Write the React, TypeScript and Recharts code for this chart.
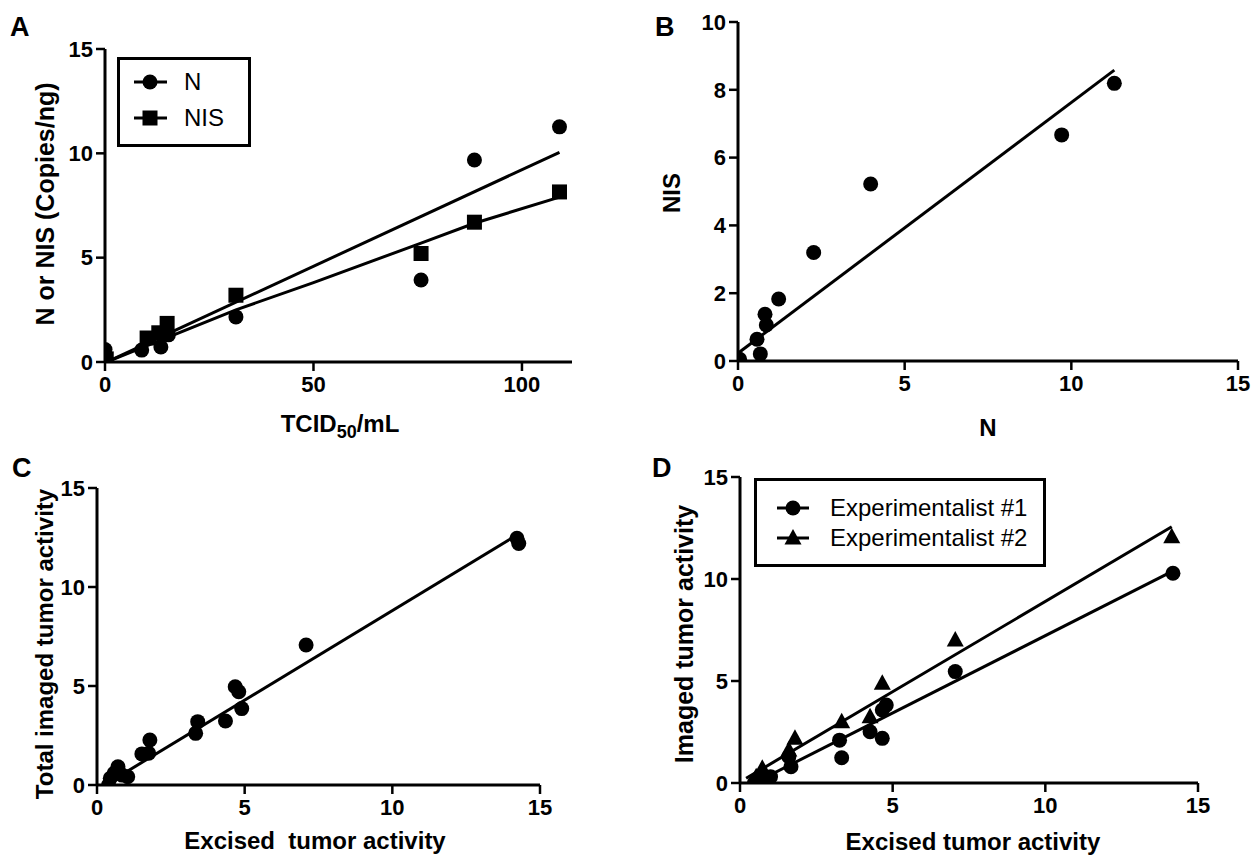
import React from 'react';
import { ScatterChart, Scatter, XAxis, YAxis, Legend } from 'recharts';

const FONT = "'Liberation Sans', Arial, Helvetica, sans-serif";

// ---------- Panel A ----------
const aXTicks = [0, 50, 100];
const aYTicks = [0, 5, 10, 15];
const aN = [
  { x: 0, y: 0.6 }, { x: 0, y: 0.3 }, { x: 8.8, y: 0.57 }, { x: 13.4, y: 0.72 },
  { x: 15.2, y: 1.3 }, { x: 31.4, y: 2.16 }, { x: 75.8, y: 3.93 }, { x: 88.6, y: 9.68 }, { x: 109, y: 11.27 },
];
const aNIS = [
  { x: 0, y: 0 }, { x: 0.3, y: 0.15 }, { x: 10.1, y: 1.15 }, { x: 12.9, y: 1.4 },
  { x: 14.9, y: 1.85 }, { x: 31.4, y: 3.2 }, { x: 75.8, y: 5.2 }, { x: 88.6, y: 6.7 }, { x: 109, y: 8.15 },
];
const aFitN = [{ x: 1, y: 0.05 }, { x: 109, y: 10.05 }];
const aFitNIS = [
  { x: 1, y: 0.05 }, { x: 31.4, y: 2.5 }, { x: 50, y: 3.8 }, { x: 75.8, y: 5.7 }, { x: 88.6, y: 6.65 }, { x: 109, y: 7.9 },
];

// ---------- Panel B ----------
const bXTicks = [0, 5, 10, 15];
const bYTicks = [0, 2, 4, 6, 8, 10];
const bPoints = [
  { x: 0, y: 0 }, { x: 0.05, y: 0.05 }, { x: 0.57, y: 0.64 }, { x: 0.67, y: 0.21 },
  { x: 0.81, y: 1.38 }, { x: 0.85, y: 1.06 }, { x: 1.22, y: 1.83 }, { x: 2.27, y: 3.2 },
  { x: 3.98, y: 5.22 }, { x: 9.71, y: 6.67 }, { x: 11.29, y: 8.19 },
];
const bFit = [{ x: 0, y: 0.23 }, { x: 11.29, y: 8.58 }];

// ---------- Panel C ----------
const cXTicks = [0, 5, 10, 15];
const cYTicks = [0, 5, 10, 15];
const cPoints = [
  { x: 0.39, y: 0 }, { x: 0.45, y: 0.34 }, { x: 0.58, y: 0.59 }, { x: 0.71, y: 0.92 },
  { x: 0.85, y: 0.5 }, { x: 1.04, y: 0.42 }, { x: 1.52, y: 1.57 }, { x: 1.75, y: 1.6 },
  { x: 1.79, y: 2.27 }, { x: 3.34, y: 2.61 }, { x: 3.41, y: 3.2 }, { x: 4.35, y: 3.23 },
  { x: 4.9, y: 3.86 }, { x: 4.8, y: 4.71 }, { x: 4.68, y: 4.96 }, { x: 7.08, y: 7.07 },
  { x: 14.22, y: 12.46 }, { x: 14.28, y: 12.2 },
];
const cFit = [{ x: 0.26, y: 0 }, { x: 14.22, y: 12.63 }];

// ---------- Panel D ----------
const dXTicks = [0, 5, 10, 15];
const dYTicks = [0, 5, 10, 15];
const dExp1 = [
  { x: 0.47, y: 0 }, { x: 0.73, y: 0.25 }, { x: 1.0, y: 0.31 }, { x: 1.6, y: 1.29 },
  { x: 1.67, y: 0.8 }, { x: 3.26, y: 2.1 }, { x: 3.33, y: 1.24 }, { x: 4.26, y: 2.51 },
  { x: 4.66, y: 2.19 }, { x: 4.66, y: 3.58 }, { x: 4.79, y: 3.82 }, { x: 7.05, y: 5.46 }, { x: 14.18, y: 10.28 },
];
const dExp2 = [
  { x: 0.4, y: 0 }, { x: 0.53, y: 0.31 }, { x: 0.73, y: 0.72 }, { x: 1.6, y: 1.62 },
  { x: 1.8, y: 2.19 }, { x: 3.33, y: 3.0 }, { x: 4.26, y: 3.25 }, { x: 4.66, y: 4.89 },
  { x: 7.05, y: 7.01 }, { x: 14.14, y: 12.07 },
];
const dFit1 = [{ x: 0.47, y: 0 }, { x: 14.14, y: 10.36 }];
const dFit2 = [{ x: 0.2, y: 0.23 }, { x: 14.14, y: 12.56 }];

// ---------- shapes ----------
type Kind = 'circle' | 'square' | 'triangle';
const Marker = ({ kind, cx, cy }: { kind: Kind; cx: number; cy: number }) => {
  if (kind === 'square') return <rect x={cx - 7.5} y={cy - 7.5} width={15} height={15} fill="#000" />;
  if (kind === 'triangle')
    return <polygon points={`${cx},${cy - 9} ${cx + 8.5},${cy + 6.5} ${cx - 8.5},${cy + 6.5}`} fill="#000" />;
  return <circle cx={cx} cy={cy} r={7.5} fill="#000" />;
};
const shapeOf = (kind: Kind) => (p: any) => <Marker kind={kind} cx={p.cx} cy={p.cy} />;
const noShape = () => <g />;

const PAD_L = 70;
const PAD_T = 20;
const PAD_R = 24;
const PAD_B = 50;
const tickStyle = { fill: '#000', fontSize: 22, fontWeight: 700, fontFamily: FONT };
const axisLine = { stroke: '#000', strokeWidth: 3 };
const tickLine = { stroke: '#000', strokeWidth: 2.5 };

type SeriesDef = { name: string; data: { x: number; y: number }[]; kind: Kind };
type LegendDef = {
  left: number; top: number; width: number; height: number;
  rows: number[]; lineX: [number, number]; markX: number; textX: number;
};

const LegendBox = ({ def, series }: { def: LegendDef; series: SeriesDef[] }) => (
  <div
    style={{
      position: 'relative', width: def.width, height: def.height, border: '3px solid #000',
      boxSizing: 'border-box', background: '#fff', fontFamily: FONT,
    }}
  >
    {series.map((s, i) => (
      <React.Fragment key={s.name}>
        <svg
          width={def.lineX[1] - def.lineX[0] + 20}
          height={24}
          style={{ position: 'absolute', left: def.lineX[0] - 10 - 3, top: def.rows[i] - 12 - 3 }}
        >
          <line x1={10} x2={10 + def.lineX[1] - def.lineX[0]} y1={12} y2={12} stroke="#000" strokeWidth={3} />
          <Marker kind={s.kind} cx={10 + def.markX - def.lineX[0]} cy={12} />
        </svg>
        <div
          style={{
            position: 'absolute', left: def.textX - 3, top: def.rows[i] - 14 - 3, fontSize: 24,
            lineHeight: '28px', whiteSpace: 'nowrap', color: '#000',
          }}
        >
          {s.name}
        </div>
      </React.Fragment>
    ))}
  </div>
);

const Panel = ({
  x0, x1, y0, y1, xDomain, xTicks, yDomain, yTicks, series, fits, legend,
}: {
  x0: number; x1: number; y0: number; y1: number;
  xDomain: [number, number]; xTicks: number[]; yDomain: [number, number]; yTicks: number[];
  series: SeriesDef[]; fits: { x: number; y: number }[][]; legend?: LegendDef;
}) => {
  const width = x1 - x0 + PAD_L + PAD_R;
  const height = y1 - y0 + PAD_T + PAD_B;
  return (
    <div style={{ position: 'absolute', left: x0 - PAD_L, top: y0 - PAD_T, width, height }}>
      <ScatterChart width={width} height={height} margin={{ top: PAD_T, right: PAD_R, bottom: 0, left: 0 }}>
        <XAxis
          type="number" dataKey="x" domain={xDomain} ticks={xTicks} allowDataOverflow height={PAD_B}
          axisLine={axisLine} tickLine={tickLine} tickSize={9} tickMargin={5} tick={tickStyle}
        />
        <YAxis
          type="number" dataKey="y" domain={yDomain} ticks={yTicks} allowDataOverflow width={PAD_L}
          axisLine={axisLine} tickLine={tickLine} tickSize={9} tickMargin={3} tick={tickStyle}
        />
        {fits.map((f, i) => (
          <Scatter
            key={'fit' + i} name={'fit' + i} data={f} fill="none" legendType="none"
            line={{ stroke: '#000', strokeWidth: 3, fill: 'none' }} shape={noShape} isAnimationActive={false}
          />
        ))}
        {series.map((s) => (
          <Scatter key={s.name} name={s.name} data={s.data} fill="#000" shape={shapeOf(s.kind)} isAnimationActive={false} />
        ))}
        {legend && (
          <Legend
            layout="horizontal" verticalAlign="middle" align="center"
            wrapperStyle={{ position: 'absolute', left: legend.left - (x0 - PAD_L), top: legend.top - (y0 - PAD_T), width: legend.width, height: legend.height }}
            content={() => <LegendBox def={legend} series={series} />}
          />
        )}
      </ScatterChart>
    </div>
  );
};

const titleBold = { fontFamily: FONT, fontWeight: 700, fill: '#000' } as const;

export default function App() {
  return (
    <div style={{ position: 'absolute', left: 0, top: 0, width: 1258, height: 856, background: '#fff', overflow: 'hidden' }}>
      <Panel
        x0={105} x1={572} y0={49} y1={362} xDomain={[0, 112]} xTicks={aXTicks} yDomain={[0, 15]} yTicks={aYTicks}
        series={[{ name: 'N', data: aN, kind: 'circle' }, { name: 'NIS', data: aNIS, kind: 'square' }]}
        fits={[aFitN, aFitNIS]}
        legend={{ left: 117, top: 57, width: 134, height: 90, rows: [25, 61], lineX: [17, 50], markX: 33, textX: 67 }}
      />
      <Panel
        x0={738} x1={1238} y0={22} y1={361} xDomain={[0, 15]} xTicks={bXTicks} yDomain={[0, 10]} yTicks={bYTicks}
        series={[{ name: 'NIS', data: bPoints, kind: 'circle' }]}
        fits={[bFit]}
      />
      <Panel
        x0={97} x1={540} y0={488} y1={785} xDomain={[0, 15]} xTicks={cXTicks} yDomain={[0, 15]} yTicks={cYTicks}
        series={[{ name: 'Total', data: cPoints, kind: 'circle' }]}
        fits={[cFit]}
      />
      <Panel
        x0={740} x1={1198} y0={477} y1={783} xDomain={[0, 15]} xTicks={dXTicks} yDomain={[0, 15]} yTicks={dYTicks}
        series={[{ name: 'Experimentalist #1', data: dExp1, kind: 'circle' }, { name: 'Experimentalist #2', data: dExp2, kind: 'triangle' }]}
        fits={[dFit1, dFit2]}
        legend={{ left: 754, top: 478, width: 292, height: 89, rows: [30, 60], lineX: [23, 55], markX: 39, textX: 76 }}
      />
      <svg width={1258} height={856} style={{ position: 'absolute', left: 0, top: 0, pointerEvents: 'none' }}>
        <text x={10} y={36} fontSize={27} {...titleBold}>A</text>
        <text x={655} y={36} fontSize={27} {...titleBold}>B</text>
        <text x={12} y={477} fontSize={27} {...titleBold}>C</text>
        <text x={652} y={477} fontSize={27} {...titleBold}>D</text>

        <text transform="translate(54,204) rotate(-90)" textAnchor="middle" fontSize={25} {...titleBold}>N or NIS (Copies/ng)</text>
        <text x={340} y={432} textAnchor="middle" fontSize={24} {...titleBold}>
          TCID<tspan dy={6} fontSize={18}>50</tspan><tspan dy={-6}>/mL</tspan>
        </text>

        <text transform="translate(680,193) rotate(-90)" textAnchor="middle" fontSize={24} {...titleBold}>NIS</text>
        <text x={988} y={436} textAnchor="middle" fontSize={24} {...titleBold}>N</text>

        <text transform="translate(53,644) rotate(-90)" textAnchor="middle" fontSize={24} {...titleBold}>Total imaged tumor activity</text>
        <text x={315} y={849} textAnchor="middle" fontSize={24} style={{ whiteSpace: 'pre' }} {...titleBold}>Excised  tumor activity</text>

        <text transform="translate(693,634) rotate(-90)" textAnchor="middle" fontSize={25} {...titleBold}>Imaged tumor activity</text>
        <text x={973} y={850} textAnchor="middle" fontSize={24} {...titleBold}>Excised tumor activity</text>
      </svg>
    </div>
  );
}
